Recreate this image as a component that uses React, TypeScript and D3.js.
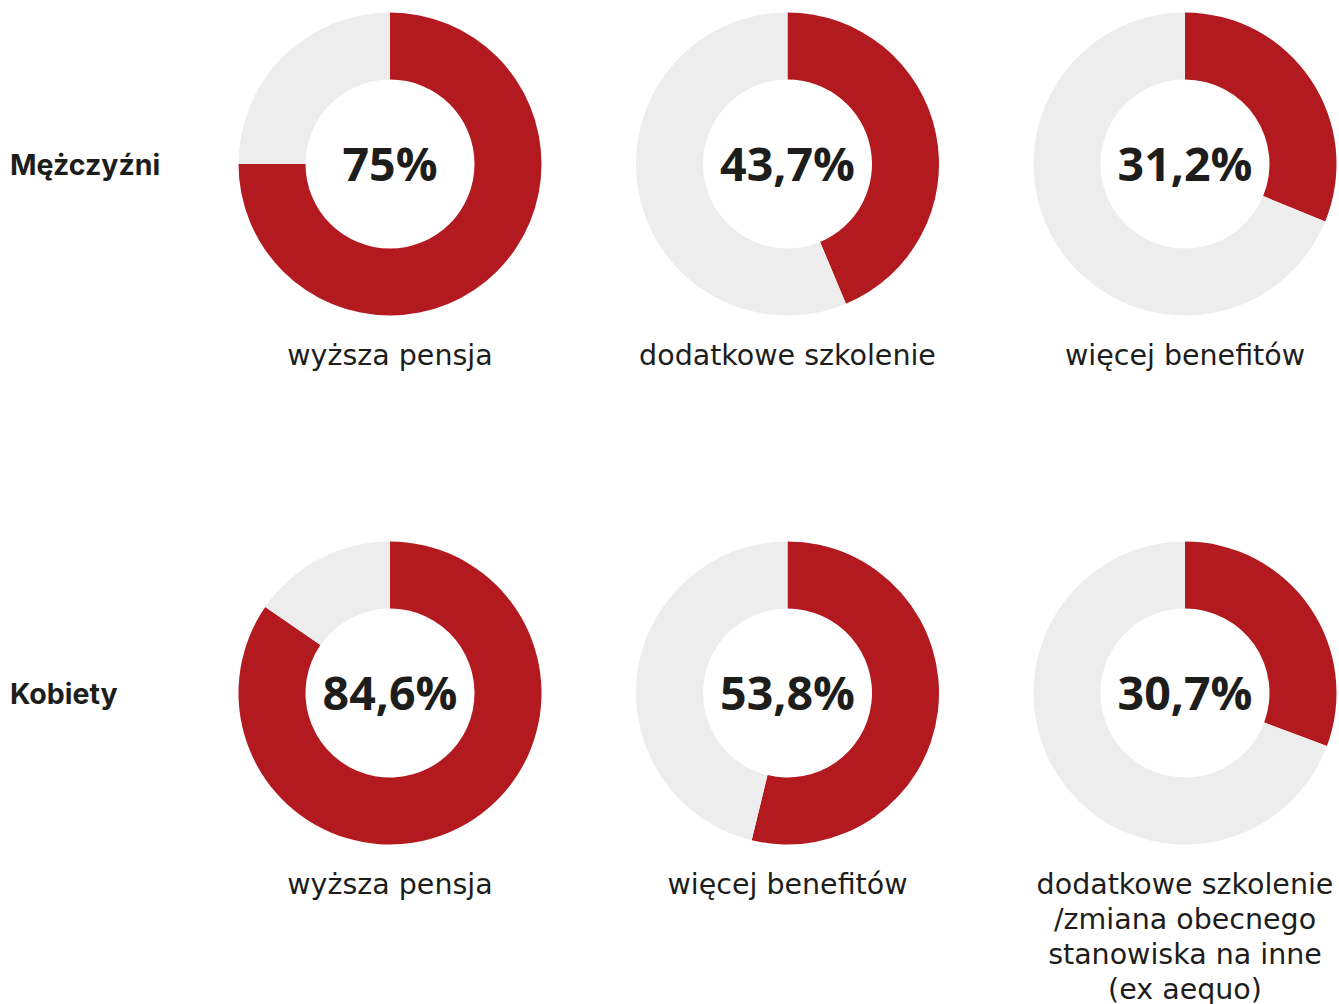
import React from "react";
import * as d3 from "d3";

const rowLabels = ["Mężczyźni", "Kobiety"];
const menValues = [75, 43.7, 31.2];
const menLabels = [["wyższa pensja"], ["dodatkowe szkolenie"], ["więcej benefitów"]];
const womenValues = [84.6, 53.8, 30.7];
const womenLabels = [
  ["wyższa pensja"],
  ["więcej benefitów"],
  ["dodatkowe szkolenie", "/zmiana obecnego", "stanowiska na inne", "(ex aequo)"],
];

const W = 1339;
const H = 1004;
const RED = "#B31A20";
const GRAY = "#EDEDED";
const TEXT = "#1D1D1B";

const colX = d3.scalePoint<number>().domain([0, 1, 2]).range([390, 1185]);
const rowY = d3.scalePoint<number>().domain([0, 1]).range([164, 693]);

const outerR = 151.5;
const innerR = 84.5;
const arc = d3.arc<d3.PieArcDatum<number>>().innerRadius(innerR).outerRadius(outerR);
const pie = d3.pie<number>().sort(null).value((d) => d);

const fmt = (v: number) => String(v).replace(".", ",") + "%";

function Donut({ value, labels, cx, cy }: { value: number; labels: string[]; cx: number; cy: number }) {
  const arcs = pie([value, 100 - value]);
  return (
    <g transform={`translate(${cx},${cy})`}>
      {arcs.map((a, i) => (
        <path key={i} d={arc(a) || ""} fill={i === 0 ? RED : GRAY} />
      ))}
      <text
        x={0}
        y={17}
        textAnchor="middle"
        fontFamily="'Open Sans', sans-serif"
        fontWeight={700}
        fontSize={46.5}
        fill={TEXT}
      >
        {fmt(value)}
      </text>
      {labels.map((l, i) => (
        <text
          key={i}
          x={0}
          y={201 + i * 35}
          textAnchor="middle"
          fontFamily="'DejaVu Sans', sans-serif"
          fontSize={28.5}
          fill={TEXT}
        >
          {l}
        </text>
      ))}
    </g>
  );
}

export default function App() {
  const rows = [
    { values: menValues, labels: menLabels },
    { values: womenValues, labels: womenLabels },
  ];
  return (
    <svg width={W} height={H} style={{ display: "block", position: "absolute", left: 0, top: 0 }}>
      <rect width={W} height={H} fill="#fff" />
      {rows.map((r, ri) => (
        <g key={ri}>
          <text
            x={10}
            y={(rowY(ri) as number) + 11}
            fontFamily="'Inter', sans-serif"
            fontWeight={700}
            fontSize={28.5}
            fill={TEXT}
          >
            {rowLabels[ri]}
          </text>
          {r.values.map((v, ci) => (
            <Donut key={ci} value={v} labels={r.labels[ci]} cx={colX(ci) as number} cy={rowY(ri) as number} />
          ))}
        </g>
      ))}
    </svg>
  );
}
